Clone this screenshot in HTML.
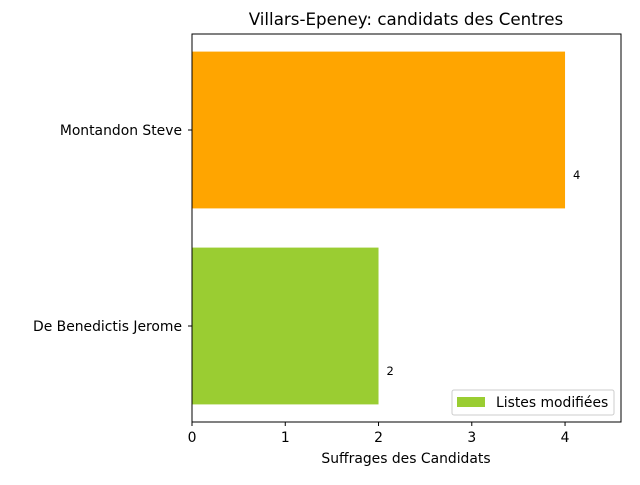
<!DOCTYPE html>
<html><head><meta charset="utf-8"><style>
body{margin:0;background:#fff;font-family:"Liberation Sans","DejaVu Sans",sans-serif;}
</style></head><body>
<svg width="640" height="480" xmlns="http://www.w3.org/2000/svg" font-family="DejaVu Sans, Liberation Sans, sans-serif">
<g id="marks"></g>
<rect x="192" y="34" width="429" height="388" fill="none" stroke="#000" stroke-width="1"/>
<text x="406" y="25" text-anchor="middle" font-size="16.7">Villars-Epeney: candidats des Centres</text>
<text x="406" y="463" text-anchor="middle" font-size="13.9">Suffrages des Candidats</text>
<g>
<rect x="452" y="390" width="162" height="25" fill="#fff" stroke="#ccc" rx="2"/>
<rect x="457" y="397" width="28" height="10" fill="#9acd32"/>
<text x="496" y="407" font-size="13.9">Listes modifiées</text>
</g>
<script>
const categories = ["De Benedictis Jerome", "Montandon Steve"];
const values = [2, 4];
const colors = ["#9acd32", "#ffa500"];
const xTicks = [0, 1, 2, 3, 4];
const L=192, R=621, T=34, B=422, XMAX=4.6;
const x = v => L + v/XMAX*(R-L);
const slot = 196;
const yc = i => (T+B)/2 + slot*((categories.length-1)/2 - i);
const bh = slot*0.8;
const g = document.getElementById('marks');
const ns = "http://www.w3.org/2000/svg";
categories.forEach((c,i)=>{
  const r=document.createElementNS(ns,'rect');
  r.setAttribute('x',x(0)); r.setAttribute('y',yc(i)-bh/2);
  r.setAttribute('width',x(values[i])-x(0)); r.setAttribute('height',bh);
  r.setAttribute('fill',colors[i]);
  
  
  g.appendChild(r);
  const t=document.createElementNS(ns,'text');
  t.setAttribute('x',x(values[i])+8); t.setAttribute('y',yc(i)+49);
  t.setAttribute('font-size','11.5'); t.textContent=values[i];
  
  
  g.appendChild(t);
  const l=document.createElementNS(ns,'text');
  l.setAttribute('x',182); l.setAttribute('y',yc(i)+5);
  l.setAttribute('font-size','13.9'); l.setAttribute('text-anchor','end'); l.textContent=c;
  
  
  g.appendChild(l);
  const tk=document.createElementNS(ns,'line');
  tk.setAttribute('x1',188); tk.setAttribute('x2',192); tk.setAttribute('y1',yc(i)); tk.setAttribute('y2',yc(i));
  tk.setAttribute('stroke','#000');
  
  
  g.appendChild(tk);
});
xTicks.forEach(v=>{
  const tk=document.createElementNS(ns,'line');
  tk.setAttribute('x1',x(v)); tk.setAttribute('x2',x(v)); tk.setAttribute('y1',B); tk.setAttribute('y2',B+4);
  tk.setAttribute('stroke','#000');
  
  
  g.appendChild(tk);
  const t=document.createElementNS(ns,'text');
  t.setAttribute('x',x(v)); t.setAttribute('y',B+20); t.setAttribute('text-anchor','middle');
  t.setAttribute('font-size','13.9'); t.textContent=v;
  
  
  g.appendChild(t);
});
</script>
</svg>
</body></html>
